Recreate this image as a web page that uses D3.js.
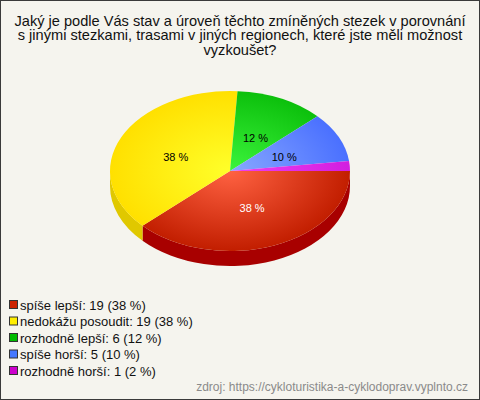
<!DOCTYPE html>
<html><head><meta charset="utf-8">
<script src="https://cdn.jsdelivr.net/npm/d3@7"></script>
<style>html,body{margin:0;padding:0;background:#fff;}svg{display:block;}</style>
</head><body>
<script>
const categories = ["spíše lepší","nedokážu posoudit","rozhodně lepší","spíše horší","rozhodně horší"];
const counts = [19,19,6,5,1];
const percents = [38,38,12,10,2];
const titleLines = ["Jaký je podle Vás stav a úroveň těchto zmíněných stezek v porovnání","s jinými stezkami, trasami v jiných regionech, které jste měli možnost","vyzkoušet?"];
const source = "zdroj: https://cykloturistika-a-cyklodoprav.vyplnto.cz";

const colLight = ["#ff6242","#ffff2a","#3cf43c","#88a8ff","#f040f0"];
const colDark  = ["#c21e00","#ffe000","#0cc00c","#4a70ff","#d21ee0"];
const colSide  = ["#a80000","#e0c800","#0a9a0a","#3a58c8","#a010b0"];
const colLegend= ["#cc2200","#ffee00","#00bb00","#4477ff","#cc00cc"];
const labelCol = ["#fff","#000","#000","#000","#000"];

const W=480,H=400;
const svg=d3.select("body").append("svg").attr("width",W).attr("height",H);
svg.append("rect").attr("x",0.5).attr("y",0.5).attr("width",W-1).attr("height",H-1)
  .attr("fill","#f5f4ee").attr("stroke","#3a3a3a");

const font="Liberation Sans, Arial, sans-serif";
svg.append("g").selectAll("text").data(titleLines).join("text")
  .attr("x",240).attr("y",(d,i)=>25.5+i*14.5).attr("text-anchor","middle")
  .attr("font-family",font).attr("font-size",14.6).attr("fill","#111").text(d=>d);

const cx=230,cy=171,rx=120,ry=80,depth=15;
const defs=svg.append("defs");
counts.forEach((c,i)=>{
  const g=defs.append("radialGradient").attr("id","g"+i).attr("gradientUnits","userSpaceOnUse")
    .attr("cx",0).attr("cy",0).attr("r",rx);
  g.append("stop").attr("offset","0%").attr("stop-color",colLight[i]);
  g.append("stop").attr("offset","100%").attr("stop-color",colDark[i]);
});

const pie=d3.pie().sort(null).startAngle(Math.PI/2).endAngle(Math.PI/2+2*Math.PI);
const arcs=pie(counts);

// sides (visible front half: screen angle 0..PI)
const sideG=svg.append("g");
arcs.forEach((a,i)=>{
  let t0=a.startAngle-Math.PI/2, t1=a.endAngle-Math.PI/2;
  const s0=Math.max(t0,0), s1=Math.min(t1,Math.PI);
  if(s1<=s0) return;
  const x0=cx+rx*Math.cos(s0), y0=cy+ry*Math.sin(s0);
  const x1=cx+rx*Math.cos(s1), y1=cy+ry*Math.sin(s1);
  const p=`M${x0},${y0} A${rx},${ry} 0 0 1 ${x1},${y1} L${x1},${y1+depth} A${rx},${ry} 0 0 0 ${x0},${y0+depth} Z`;
  sideG.append("path").attr("d",p).attr("fill",colSide[i]);
});

const arc=d3.arc().innerRadius(0).outerRadius(rx);
const topG=svg.append("g").attr("transform",`translate(${cx},${cy}) scale(1,${ry/rx})`);
topG.selectAll("path").data(arcs).join("path").attr("d",arc).attr("fill",(d,i)=>`url(#g${i})`);

const labG=svg.append("g");
arcs.forEach((a,i)=>{
  if(percents[i]<5) return;
  const m=(a.startAngle+a.endAngle)/2-Math.PI/2;
  labG.append("text").attr("x",cx+rx*0.5*Math.cos(m)).attr("y",cy+ry*0.5*Math.sin(m)+(i===0?4:7))
    .attr("text-anchor","middle").attr("font-family",font).attr("font-size",11)
    .attr("fill",labelCol[i]).text(percents[i]+" %");
});

const legG=svg.append("g");
categories.forEach((c,i)=>{
  const y=305+i*16.5;
  legG.append("rect").attr("x",9.5).attr("y",y-4.5).attr("width",8).attr("height",8)
    .attr("fill",colLegend[i]).attr("stroke","#333");
  legG.append("text").attr("x",20).attr("y",y+4.5).attr("font-family",font).attr("font-size",13)
    .attr("fill","#111").text(`${c}: ${counts[i]} (${percents[i]} %)`);
});

svg.append("text").attr("x",468).attr("y",391).attr("text-anchor","end")
  .attr("font-family",font).attr("font-size",12).attr("fill","#8a8a8a").text(source);
</script>
</body></html>
